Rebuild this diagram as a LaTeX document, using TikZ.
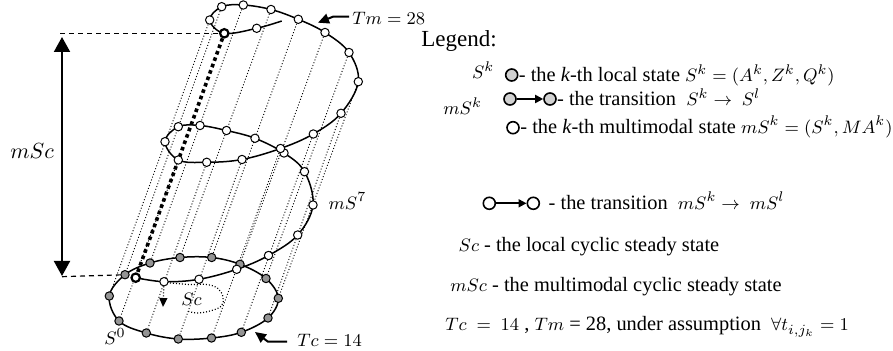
\documentclass[tikz,border=0pt]{standalone}
\usepackage{fontspec}
\setmainfont{Liberation Serif}
\usetikzlibrary{arrows.meta}
\pgfdeclarelayer{bg}
\pgfsetlayers{bg,main}
\newcommand{\legm}[1]{{\fontsize{9.3}{11}\selectfont$#1$}}
\begin{document}
\begin{tikzpicture}[x=0.5pt,y=-0.5pt,
  wn/.style={circle,draw=black,line width=0.5pt,fill=white,inner sep=0pt,minimum size=4.2pt},
  bn/.style={wn,line width=1.1pt},
  gn/.style={circle,draw=black,line width=0.5pt,fill=black!42,inner sep=0pt,minimum size=4.2pt},
  gen/.style={line width=0.45pt,dash pattern=on 0.5pt off 1pt},
  curve/.style={line width=0.75pt},
  dsh/.style={line width=0.6pt,dash pattern=on 2.5pt off 2pt},
  lbl/.style={font=\fontsize{9.5}{11}\selectfont,inner sep=0pt,anchor=base west},
  leg/.style={font=\fontsize{10.2}{12}\selectfont,inner sep=0pt,anchor=base west},
  lgc/.style={circle,draw=black,line width=0.8pt,fill=black!18,inner sep=0pt,minimum size=6pt},
  lwc/.style={lgc,fill=white},
]
\useasboundingbox (0,0) rectangle (893,351);
% gray nodes (local states)
\node[gn] (g0) at (119,321) {};
\node[gn] (g1) at (146.3,333) {};
\node[gn] (g2) at (178.3,339) {};
\node[gn] (g3) at (211.5,338) {};
\node[gn] (g4) at (241.3,332.3) {};
\node[gn] (g5) at (268,318) {};
\node[gn] (g6) at (278.3,298.3) {};
\node[gn] (g7) at (266,278.5) {};
\node[gn] (g8) at (240,264.3) {};
\node[gn] (g9) at (211.7,257.5) {};
\node[gn] (g10) at (180,257.5) {};
\node[gn] (g11) at (150,263) {};
\node[gn] (g12) at (125,274.7) {};
\node[gn] (g13) at (109.3,296) {};
% white nodes (multimodal states)
\node[bn] (w0) at (135.7,277.7) {};
\node[wn] (w1) at (164,281.7) {};
\node[wn] (w2) at (199,279.3) {};
\node[wn] (w3) at (236.7,269.3) {};
\node[wn] (w4) at (268.5,255.5) {};
\node[wn] (w5) at (297.7,235) {};
\node[wn] (w6) at (313,205) {};
\node[wn] (w7) at (304.5,171.7) {};
\node[wn] (w8) at (284,153) {};
\node[wn] (w9) at (255,138.3) {};
\node[wn] (w10) at (226.5,130.5) {};
\node[wn] (w11) at (200,125.5) {};
\node[wn] (w12) at (178.3,126.7) {};
\node[wn] (w13) at (165,141.7) {};
\node[wn] (w14) at (178.3,160) {};
\node[wn] (w15) at (206.7,162.3) {};
\node[wn] (w16) at (242,159.5) {};
\node[wn] (w17) at (280.5,148.5) {};
\node[wn] (w18) at (313.3,134) {};
\node[wn] (w19) at (341,113.3) {};
\node[wn] (w20) at (358.3,81.7) {};
\node[wn] (w21) at (349,52.5) {};
\node[wn] (w22) at (325,32.5) {};
\node[wn] (w23) at (298.3,19.3) {};
\node[wn] (w24) at (271,9.5) {};
\node[wn] (w25) at (243.3,5) {};
\node[wn] (w26) at (221.7,6.7) {};
\node[wn] (w27) at (209.7,20) {};
\node[bn] (w28) at (224.3,33.3) {};
\node[wn] (w29) at (256.7,28.3) {};
\coordinate (spEnd) at (281.7,21);
\coordinate (scTip) at (163,307);
\coordinate (dTop) at (60,33.3);
\coordinate (dBot) at (62,276.7);
\coordinate (aTop) at (62,37);
\coordinate (aBot) at (62,276);
\coordinate (tmA) at (349,16.7);
\coordinate (tmB) at (333,16.7);
\coordinate (tmC) at (318,22.7);
\coordinate (tcA) at (287,341.7);
\coordinate (tcB) at (268,341.7);
\coordinate (tcC) at (255,332);
\begin{pgfonlayer}{bg}
  \foreach \k in {0,...,13}{\pgfmathtruncatemacro{\j}{\k+14}\draw[gen] (w\j) -- (g\k);}
  \draw[curve] plot[smooth cycle,tension=0.6] coordinates {(g0.center) (g1.center) (g2.center) (g3.center) (g4.center) (g5.center) (g6.center) (g7.center) (g8.center) (g9.center) (g10.center) (g11.center) (g12.center) (g13.center)};
  \draw[curve] plot[smooth,tension=0.6] coordinates {(w0.center) (w1.center) (w2.center) (w3.center) (w4.center) (w5.center) (w6.center) (w7.center) (w8.center) (w9.center) (w10.center) (w11.center) (w12.center) (w13.center) (w14.center) (w15.center) (w16.center) (w17.center) (w18.center) (w19.center) (w20.center) (w21.center) (w22.center) (w23.center) (w24.center) (w25.center) (w26.center) (w27.center) (w28.center) (w29.center) (spEnd)};
  \draw[line width=1.8pt,dash pattern=on 1.8pt off 1.6pt] (w28) -- (w0);
  \draw[gen,line width=0.6pt] plot[smooth,tension=0.6] coordinates {(170,283) (190,284.5) (207,284.5) (218,288.5) (223,297) (221.5,306) (210,311) (197,313) (187,311)};
  \draw[gen,line width=0.6pt,-{Triangle[length=4.5pt,width=4pt]}] (w1) -- (scTip);
  \draw[dsh] (dTop) -- (w28);
  \draw[dsh] (dBot) -- (g12);
\end{pgfonlayer}
\draw[line width=1pt,{Triangle[length=7.5pt,width=8pt]}-{Triangle[length=7.5pt,width=8pt]}] (aTop) -- (aBot);
\draw[line width=1pt,-{Triangle[length=5.5pt,width=5pt]}] (tmA) -- (tmB) -- (tmC);
\draw[line width=1pt,-{Triangle[length=5.5pt,width=5pt]}] (tcA) -- (tcB) -- (tcC);
% labels
\node[lbl,font=\fontsize{10.7}{13}\selectfont] (mscL) at (10,158.3) {$mSc$};
\node[lbl] (ms7) at (328.3,209.5) {$mS^7$};
\node[lbl] (s0) at (104,345) {$S^0$};
\node[lbl] (tcL) at (297,346.5) {$Tc=14$};
\node[lbl] (tmL) at (352,25) {$Tm=28$};
\node[lbl] (scL) at (181,306) {$Sc$};
% legend
\node[leg,font=\fontsize{11.5}{13}\selectfont] (legT) at (421,46.7) {Legend:};
\node[leg] (l1s) at (471.7,79) {\legm{S^k}};
\node[lgc] (l1) at (511.7,75) {};
\node[leg] (l1t) at (518.5,81.7) {- the \textit{k}-th local state \legm{S^k=(A^k,Z^k,Q^k)}};
\node[lgc] (l2a) at (510,99) {};
\node[lgc] (l2b) at (550,99) {};
\draw[line width=0.9pt,-{Triangle[length=4pt,width=4pt]}] (l2a) -- (l2b);
\node[leg] (l2t) at (556.7,106) {- the transition\enspace\legm{S^k\rightarrow\ S^l}};
\node[leg] (l3s) at (443,115) {\legm{mS^k}};
\node[lwc] (l3) at (513,127.7) {};
\node[leg] (l3t) at (520,133.3) {- the \textit{k}-th multimodal state \legm{mS^k=(S^k,MA^k)}};
\node[lwc] (l4a) at (489.3,203.3) {};
\node[lwc] (l4b) at (533.3,203.3) {};
\draw[line width=0.9pt,-{Triangle[length=4pt,width=4pt]}] (l4a) -- (l4b);
\node[leg] (l4t) at (548.3,209.3) {- the transition\enspace\legm{mS^k\rightarrow\ mS^l}};
\node[leg] (l5t) at (458.3,251.7) {\legm{Sc} - the local cyclic steady state};
\node[leg] (l6t) at (450,291.7) {\legm{mSc} - the multimodal cyclic steady state};
\node[leg] (l7t) at (445,331) {\legm{Tc\ =\ 14} , \legm{Tm} = 28, under assumption\enspace\legm{\forall t_{i,j_k}=1}};
\end{tikzpicture}
\end{document}
